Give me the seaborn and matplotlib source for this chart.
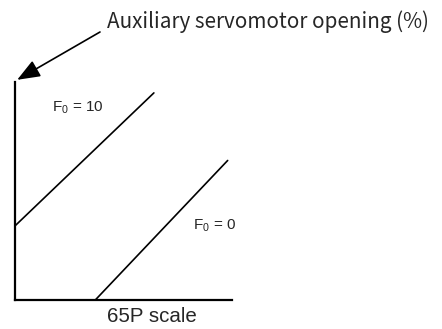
import pandas as pd
import matplotlib.pyplot as plt
import seaborn as sns

# data (conceptual units: 65P scale vs auxiliary servomotor opening)
f10_scale = [0, 64]
f10_opening = [34, 95]
f0_scale = [37, 98]
f0_opening = [0, 64]
line_labels = ["F$_0$ = 10", "F$_0$ = 0"]
x_label = "65P scale"
y_label = "Auxiliary servomotor opening (%)"

df = pd.DataFrame({
    "scale": f10_scale + f0_scale,
    "opening": f10_opening + f0_opening,
    "F0": [10, 10, 0, 0],
})

sns.set_style("white")
plt.rcParams["font.family"] = ["Liberation Sans", "DejaVu Sans"]
plt.rcParams["mathtext.fontset"] = "custom"
plt.rcParams["mathtext.rm"] = "Liberation Sans"
plt.rcParams["mathtext.it"] = "Liberation Sans"
plt.rcParams["mathtext.default"] = "rm"

fig = plt.figure(figsize=(4.42, 3.29), dpi=100)
ax = fig.add_axes([15 / 442, 29 / 329, 217 / 442, 218 / 329])

sns.lineplot(data=df, x="scale", y="opening", units="F0", estimator=None,
             color="black", lw=1.2, ax=ax)

ax.set_xlim(0, 100)
ax.set_ylim(0, 100)
ax.set_xticks([])
ax.set_yticks([])
ax.set_xlabel("")
ax.set_ylabel("")
for side in ["top", "right"]:
    ax.spines[side].set_visible(False)
for side in ["left", "bottom"]:
    ax.spines[side].set_linewidth(1.6)
    ax.spines[side].set_color("black")

# line labels
ax.text(17, 88, line_labels[0], fontsize=11, va="center", ha="left")
ax.text(82, 34, line_labels[1], fontsize=11, va="center", ha="left")

# x label under axis
fig.text(107 / 442, 1 - 317 / 329, x_label, fontsize=14.8, va="center", ha="left")

# y label with arrow pointing to top of y axis
fig.text(107 / 442, 1 - 22 / 329, y_label, fontsize=14.9, va="center", ha="left",
         family=["Noto Sans CJK JP", "DejaVu Sans"])
ax.annotate("", xy=(0.01, 1.01), xycoords="axes fraction",
            xytext=(100 / 442, 1 - 32 / 329), textcoords="figure fraction",
            arrowprops=dict(arrowstyle="-|>,head_length=1.4,head_width=0.55",
                            mutation_scale=10, color="black", lw=1.2,
                            shrinkA=0, shrinkB=0))

fig.savefig("out.png", dpi=100)
